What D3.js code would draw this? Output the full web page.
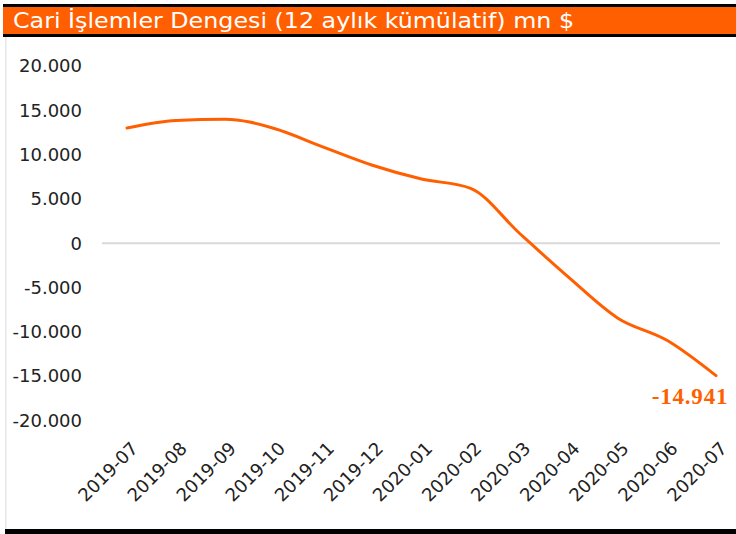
<!DOCTYPE html>
<html>
<head>
<meta charset="utf-8">
<script src="https://cdn.jsdelivr.net/npm/d3@7"></script>
<style>
  body { margin: 0; background: #fff; }
  svg text { font-family: "DejaVu Sans", sans-serif; }
  .axis .domain, .axis line { display: none; }
</style>
</head>
<body>
<div id="chart"></div>
<script>
const months = ["2019-07", "2019-08", "2019-09", "2019-10", "2019-11", "2019-12",
                "2020-01", "2020-02", "2020-03", "2020-04", "2020-05", "2020-06", "2020-07"];
const balance = [13000, 13850, 14000, 12950, 10850, 8800, 7250, 6200, 1100, -3850, -8450, -10950, -14941];
const yTicks = [-20000, -15000, -10000, -5000, 0, 5000, 10000, 15000, 20000];
const title = "Cari İşlemler Dengesi (12 aylık kümülatif) mn $";

const W = 736, H = 534;
const orange = "#ff5f00";

const svg = d3.select("#chart").append("svg")
    .attr("width", W)
    .attr("height", H);

// frame
svg.append("rect").attr("x", 3).attr("y", 4).attr("width", W - 3).attr("height", 33).attr("fill", "#000");
svg.append("rect").attr("x", 3).attr("y", 7).attr("width", W - 3).attr("height", 27).attr("fill", orange);
svg.append("rect").attr("x", 5).attr("y", 37).attr("width", 1.5).attr("height", 492).attr("fill", "#e6e6e6");
svg.append("rect").attr("x", 5).attr("y", 529).attr("width", W - 5).attr("height", 5).attr("fill", "#000");

svg.append("text")
    .attr("x", 13)
    .attr("y", 28)
    .attr("fill", "#fff")
    .style("font-family", "'DejaVu Sans Condensed', 'DejaVu Sans', sans-serif")
    .style("font-size", "22px")
    .attr("textLength", 561)
    .attr("lengthAdjust", "spacingAndGlyphs")
    .text(title);

const x = d3.scalePoint().domain(months).range([127, 716]);
const y = d3.scaleLinear().domain([-20000, 20000]).range([420.5, 66]);

const loc = d3.formatLocale({decimal: ",", thousands: ".", grouping: [3], currency: ["", "$"], minus: "-"});
const fmt = loc.format(",d");

// zero line
svg.append("line")
    .attr("x1", 102).attr("x2", 720)
    .attr("y1", y(0)).attr("y2", y(0))
    .attr("stroke", "#d9d9d9")
    .attr("stroke-width", 2);

const yAxis = svg.append("g")
    .attr("class", "axis")
    .attr("transform", "translate(82,0)")
    .call(d3.axisLeft(y).tickValues(yTicks).tickFormat(fmt).tickSize(0).tickPadding(0));
yAxis.selectAll("text")
    .style("font-size", "18px")
    .attr("fill", "#222");

const xAxis = svg.append("g")
    .attr("class", "axis")
    .attr("transform", "translate(2,440)")
    .call(d3.axisBottom(x).tickSize(0).tickPadding(0));
xAxis.selectAll("text")
    .style("font-size", "18px")
    .attr("fill", "#222")
    .style("text-anchor", "end")
    .attr("dy", "0.75em")
    .attr("transform", "rotate(-45)");

const line = d3.line()
    .x((d, i) => x(months[i]))
    .y(d => y(d))
    .curve(d3.curveMonotoneX);

svg.append("path")
    .datum(balance)
    .attr("fill", "none")
    .attr("stroke", orange)
    .attr("stroke-width", 3)
    .attr("stroke-linecap", "round")
    .attr("d", line);

const last = balance.length - 1;
svg.append("text")
    .attr("x", x(months[last]) - 26)
    .attr("y", y(balance[last]) + 28)
    .attr("text-anchor", "middle")
    .attr("fill", orange)
    .style("font-family", "'Liberation Serif', serif")
    .style("font-weight", "bold")
    .style("font-size", "23px")
    .style("letter-spacing", "0.8px")
    .text(fmt(balance[last]));
</script>
</body>
</html>
